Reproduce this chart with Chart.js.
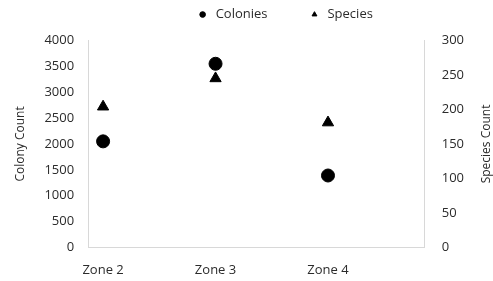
<!DOCTYPE html>
<html>
<head>
<meta charset="utf-8">
<script src="https://cdn.jsdelivr.net/npm/chart.js@4/dist/chart.umd.min.js"></script>
<style>
  html, body { margin: 0; padding: 0; background: #fff; }
  #wrap { width: 493px; height: 281px; }
</style>
</head>
<body>
<div id="wrap"><canvas id="chart" width="493" height="281"></canvas></div>
<script>
// values
const zones = ['Zone 2', 'Zone 3', 'Zone 4'];
const colonies = [2050, 3550, 1390];
const species = [204, 245, 181];
const colonyTicks = [0, 500, 1000, 1500, 2000, 2500, 3000, 3500, 4000];
const speciesTicks = [0, 50, 100, 150, 200, 250, 300];

const textColor = '#2b2b2b';
const fontFamily = '"Open Sans", sans-serif';
const axisBorder = { color: '#d8d8d8', dash: [2, 3], width: 1 };

// right-hand axis title reads bottom-to-top, like the left one
const rightTitle = {
    id: 'rightTitle',
    afterDraw(chart) {
        const ctx = chart.ctx;
        const area = chart.chartArea;
        ctx.save();
        ctx.translate(487, (area.top + area.bottom) / 2);
        ctx.rotate(-Math.PI / 2);
        ctx.fillStyle = textColor;
        ctx.font = '12px ' + fontFamily;
        ctx.textAlign = 'center';
        ctx.textBaseline = 'middle';
        ctx.fillText('Species Count', 0, 0);
        ctx.restore();
    }
};

// legend sits right of centre, with some room under it
const legendTweaks = {
    id: 'legendTweaks',
    beforeLayout(chart) {
        const lg = chart.legend;
        if (!lg || lg._patched) return;
        const fit = lg.fit;
        lg.fit = function () {
            fit.call(this);
            this.height += 9.5;
        };
        lg._patched = true;
    },
    afterLayout(chart) {
        const lg = chart.legend;
        if (!lg) return;
        lg.left += 42;
        lg.right += 42;
    }
};

new Chart(document.getElementById('chart'), {
    type: 'scatter',
    data: {
        datasets: [
            {
                label: 'Colonies',
                data: colonies.map((v, i) => ({ x: i + 1, y: v })),
                yAxisID: 'y',
                pointStyle: 'circle',
                pointRadius: 6.5,
                backgroundColor: '#000',
                borderColor: '#000'
            },
            {
                label: 'Species',
                data: species.map((v, i) => ({ x: i + 1, y: v })),
                yAxisID: 'y1',
                pointStyle: 'triangle',
                pointRadius: 6.5,
                backgroundColor: '#000',
                borderColor: '#000'
            }
        ]
    },
    options: {
        responsive: false,
        animation: false,
        layout: { padding: { left: 4, right: 12, top: -32.5, bottom: -12 } },
        plugins: {
            tooltip: { enabled: false },
            legend: {
                position: 'top',
                labels: {
                    usePointStyle: true,
                    boxWidth: 13,
                    boxHeight: 4,
                    padding: 40.5,
                    color: textColor,
                    font: { family: fontFamily, size: 13 }
                }
            }
        },
        scales: {
            x: {
                type: 'linear',
                min: 0.867,
                max: 3.86,
                afterBuildTicks: (axis) => { axis.ticks = zones.map((z, i) => ({ value: i + 1 })); },
                grid: { display: false, drawTicks: false },
                border: axisBorder,
                ticks: {
                    padding: 15,
                    color: textColor,
                    font: { family: fontFamily, size: 13 },
                    callback: (v) => zones[v - 1]
                }
            },
            y: {
                position: 'left',
                min: 0,
                max: 4000,
                afterBuildTicks: (axis) => { axis.ticks = colonyTicks.map(v => ({ value: v })); },
                grid: { display: false, drawTicks: false },
                border: axisBorder,
                title: {
                    display: true,
                    text: 'Colony Count',
                    color: textColor,
                    padding: { top: 9, bottom: 3 },
                    font: { family: fontFamily, size: 12 }
                },
                ticks: {
                    padding: 14,
                    color: textColor,
                    font: { family: fontFamily, size: 13 },
                    callback: (v) => String(v)
                }
            },
            y1: {
                position: 'right',
                min: 0,
                max: 300,
                afterBuildTicks: (axis) => { axis.ticks = speciesTicks.map(v => ({ value: v })); },
                grid: { display: false, drawTicks: false },
                border: axisBorder,
                ticks: {
                    padding: 17,
                    color: textColor,
                    font: { family: fontFamily, size: 13 },
                    callback: (v) => String(v)
                }
            }
        }
    },
    plugins: [legendTweaks, rightTitle]
});
</script>
</body>
</html>
